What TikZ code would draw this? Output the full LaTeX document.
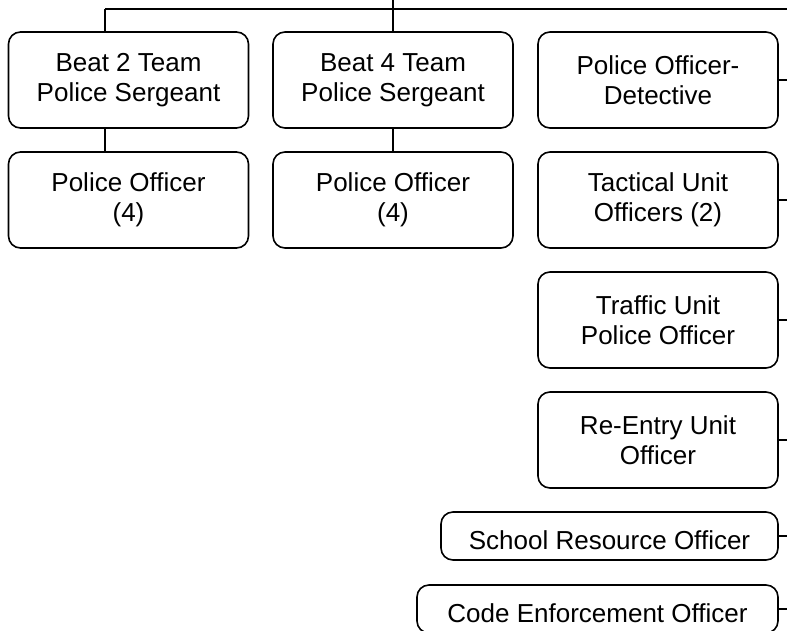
\documentclass[tikz,border=0pt]{standalone}
\usepackage{fontspec}
\setmainfont{Liberation Sans}
\begin{document}
\begin{tikzpicture}[x=1pt,y=-1pt,
  box/.style={draw=black, line width=1.6pt, rounded corners=12pt, align=center,
    inner sep=0pt, minimum height=96pt, minimum width=240pt,
    font=\fontsize{26}{30}\selectfont},
  wide/.style={box, minimum height=48pt, text height=27pt, text depth=0pt},
  conn/.style={draw=black, line width=1.6pt}]
\useasboundingbox (0,0) rectangle (787,630);
\clip (0,0) rectangle (787,630);
\node[box] (b1) at (128.5,80) {Beat 2 Team\\Police Sergeant};
\node[box] (b2) at (393,80) {Beat 4 Team\\Police Sergeant};
\node[box] (b3) at (658,80) {Police Officer-\\Detective};
\node[box] (p1) at (128.5,200) {Police Officer\\(4)};
\node[box] (p2) at (393,200) {Police Officer\\(4)};
\node[box] (t1) at (658,200) {Tactical Unit\\Officers (2)};
\node[box] (t2) at (658,320) {Traffic Unit\\Police Officer};
\node[box] (t3) at (658,440) {Re-Entry Unit\\Officer};
\node[wide, minimum width=337pt] (s1) at (609.5,536) {School Resource Officer};
\node[wide, minimum width=361pt] (s2) at (597.5,609) {Code Enforcement Officer};
\coordinate (top) at (393,0);
\coordinate (hl) at (105,9);
\coordinate (hr) at (787,9);
\coordinate (edge) at (787,0);
\draw[conn] (top) -- (b2.north);
\draw[conn] (hl) -- (hr);
\draw[conn] (hl) -- (hl |- b1.north);
\draw[conn] (hl |- b1.south) -- (hl |- p1.north);
\draw[conn] (b2.south) -- (p2.north);
\foreach \n in {b3,t1,t2,t3,s1,s2}{
  \draw[conn] (\n.east) -- (\n.east -| edge);
}
\end{tikzpicture}
\end{document}
